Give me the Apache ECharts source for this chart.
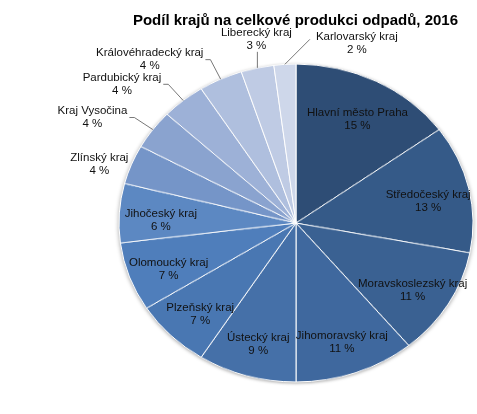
<!DOCTYPE html>
<html>
<head>
<meta charset="utf-8">
<script src="https://cdn.jsdelivr.net/npm/echarts@6/dist/echarts.min.js"></script>
<style>
  html, body { margin: 0; padding: 0; background: #fff; }
  #wrap { position: relative; width: 477px; height: 414px; overflow: hidden; }
  #pie, #labels { position: absolute; left: 0; top: 0; width: 477px; height: 414px; }
  /* excel draws the pie as an ellipse, so squash the pie layer only */
  #pie { transform: scaleY(0.898); transform-origin: 0 223px; filter: drop-shadow(0 1px 2px rgba(0,0,0,0.35)); }
</style>
</head>
<body>
<div id="wrap">
  <div id="pie"></div>
  <div id="labels"></div>
</div>
<script>
var chartTitle = 'Podíl krajů na celkové produkci odpadů, 2016';
var regions = ['Hlavní město Praha', 'Středočeský kraj', 'Moravskoslezský kraj', 'Jihomoravský kraj',
  'Ústecký kraj', 'Plzeňský kraj', 'Olomoucký kraj', 'Jihočeský kraj', 'Zlínský kraj',
  'Kraj Vysočina', 'Pardubický kraj', 'Královéhradecký kraj', 'Liberecký kraj', 'Karlovarský kraj'];
var shares = [15, 13, 11, 11, 9, 7, 7, 6, 4, 4, 4, 4, 3, 2];
var colors = ['#2E4D75', '#355A88', '#3A6192', '#3F689E', '#4570A8', '#4977B2', '#4F7EBB',
  '#5C88C2', '#7595C8', '#8AA3CF', '#9DB1D7', '#AFBFDE', '#BFCBE4', '#CED7EA'];

// small slices get their label outside
var outsideLimit = 4;
var outsidePlace = { 'Zlínský kraj': 'adjacent', 'Liberecký kraj': 'top', 'Karlovarský kraj': 'right' };

var CX = 296, CY = 223, R = 177, SY = 159 / 177;

function pieData(transparent) {
  return regions.map(function (n, i) {
    var out = shares[i] <= outsideLimit;
    return {
      name: n,
      value: shares[i],
      itemStyle: { color: transparent ? 'transparent' : colors[i] },
      label: { position: out ? 'outside' : 'inside' },
      labelLine: { show: out }
    };
  });
}

// move labels from the circle layout onto the ellipse
function placeLabel(p) {
  var rect = p.labelRect;
  var i = p.dataIndex;
  var w = rect.width, h = rect.height;
  if (shares[i] > outsideLimit) {
    var lx = rect.x + w / 2, ly = rect.y + h / 2;
    return { x: CX + (lx - CX) * 1.48, y: CY + (ly - CY) * 1.48 * SY + 5, align: 'center', verticalAlign: 'middle' };
  }
  var p0 = p.labelLinePoints[0];
  var ux = (p0[0] - CX) / R, uy = (p0[1] - CY) / R * SY;
  var len = Math.sqrt(ux * ux + uy * uy);
  ux /= len; uy /= len;
  var e0 = [p0[0], CY + (p0[1] - CY) * SY];
  var place = outsidePlace[regions[i]] || 'left';
  var p1, p2;
  if (place === 'adjacent') {
    return { x: e0[0] - 3 - w / 2, y: e0[1], align: 'center', verticalAlign: 'middle',
      labelLinePoints: [e0, e0.slice(), e0.slice()] };
  }
  if (place === 'top') {
    p1 = [e0[0], e0[1] - 16];
    return { x: e0[0] - 1, y: p1[1] - h / 2, align: 'center', verticalAlign: 'middle',
      labelLinePoints: [e0, p1, p1.slice()] };
  }
  if (place === 'right') {
    p1 = [e0[0] + 25, e0[1] - 25];
    return { x: p1[0] + 6 + w / 2, y: p1[1] + 4, align: 'center', verticalAlign: 'middle',
      labelLinePoints: [e0, p1, p1.slice()] };
  }
  p1 = [e0[0] + ux * 22, e0[1] + uy * 22];
  p2 = [p1[0] - 5, p1[1]];
  return { x: p2[0] - 2 - w / 2, y: p2[1], align: 'center', verticalAlign: 'middle',
    labelLinePoints: [e0, p1, p2] };
}

var pie = echarts.init(document.getElementById('pie'));
pie.setOption({
  animation: false,
  series: [{
    type: 'pie',
    center: [CX, CY],
    radius: R,
    startAngle: 90,
    clockwise: true,
    silent: true,
    label: { show: false },
    labelLine: { show: false },
    itemStyle: { borderColor: '#fff', borderWidth: 1 },
    data: pieData(false)
  }]
});

var labels = echarts.init(document.getElementById('labels'));
labels.setOption({
  animation: false,
  title: {
    text: chartTitle,
    right: 14,
    top: 8,
    textStyle: { fontFamily: 'Liberation Sans', fontSize: 15, fontWeight: 'bold', color: '#000' }
  },
  series: [{
    type: 'pie',
    center: [CX, CY],
    radius: R,
    startAngle: 90,
    clockwise: true,
    silent: true,
    avoidLabelOverlap: false,
    itemStyle: { borderWidth: 0 },
    label: {
      show: true,
      formatter: '{b}\n{c} %',
      fontFamily: 'Liberation Sans',
      fontSize: 11.5,
      lineHeight: 13,
      color: '#111',
      align: 'center'
    },
    labelLine: { show: true, length: 18, length2: 6, lineStyle: { color: '#555', width: 0.8 } },
    labelLayout: placeLabel,
    data: pieData(true)
  }]
});
</script>
</body>
</html>
